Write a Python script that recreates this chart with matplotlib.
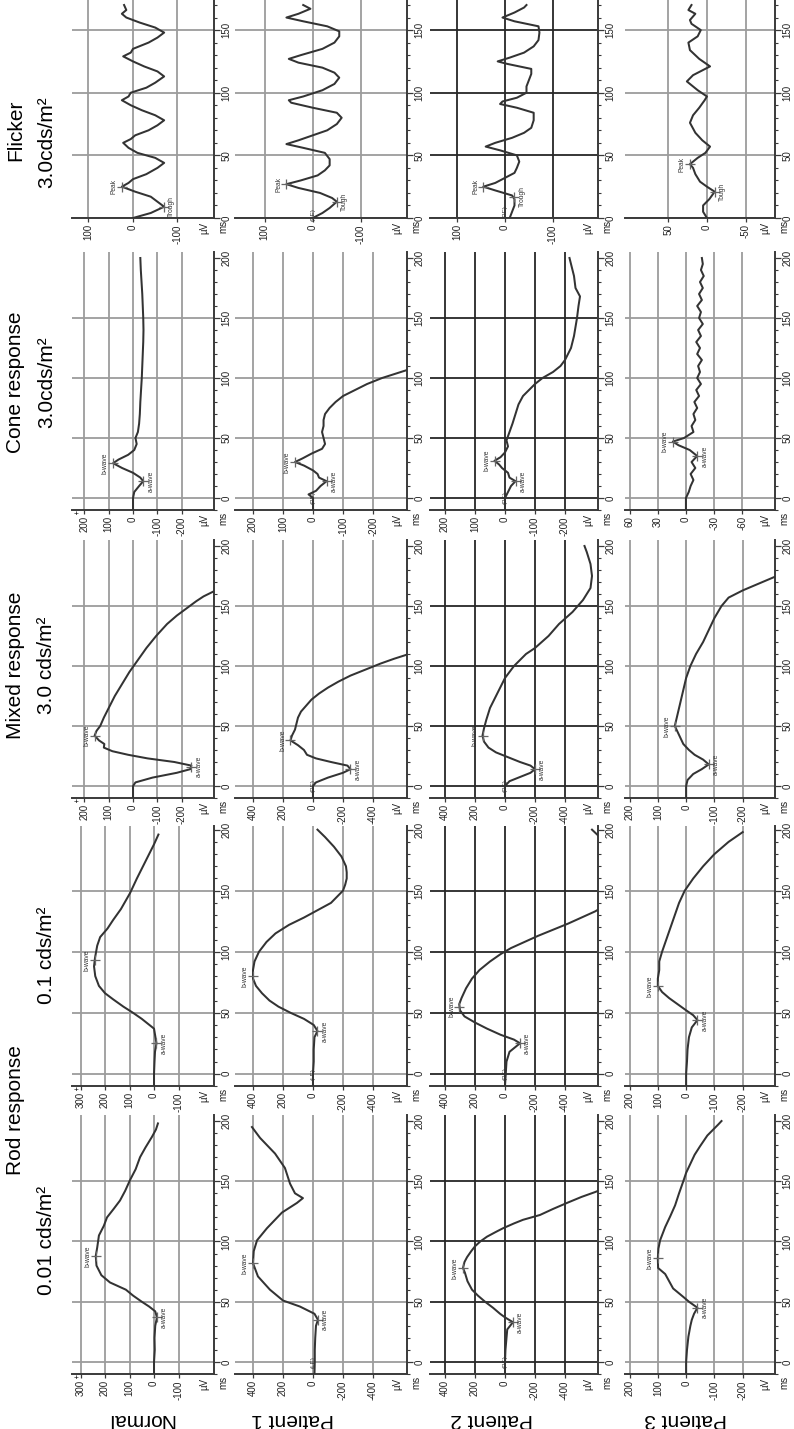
import matplotlib.pyplot as plt
from matplotlib.ticker import MultipleLocator

plt.rcParams["font.family"] = ["Liberation Sans", "DejaVu Sans"]

W, H = 794, 1429

# ── waveforms: (time ms, amplitude µV) ────────────────────────────────────────
n_rod1 = [(-10, 0), (0, 0), (10, -3), (20, -2), (30, -5), (37, -12), (42, -5), (46, 20), (50, 50),
          (55, 85), (60, 115), (66, 180), (72, 215), (80, 235), (88, 238), (95, 232), (105, 225),
          (113, 205), (120, 192), (127, 165), (134, 139), (142, 118), (151, 98), (160, 75),
          (170, 57), (178, 35), (187, 8), (193, -8), (198, -16)]
n_rod2 = [(-10, 0), (0, 0), (10, -2), (18, -4), (25, -10), (31, -5), (37, 0), (41, 25), (45, 50),
          (50, 86), (55, 125), (61, 167), (66, 200), (72, 225), (80, 240), (88, 245), (95, 241),
          (105, 232), (112, 220), (119, 190), (126, 167), (135, 135), (148, 98), (160, 70),
          (170, 45), (180, 20), (188, 0), (196, -18)]
n_mixed = [(-10, 0), (0, 0), (3, -10), (7, -80), (11, -180), (14, -235), (17, -240), (20, -170),
           (23, -60), (26, 20), (29, 85), (32, 120), (35, 118), (38, 140), (42, 158), (46, 150),
           (50, 135), (57, 120), (65, 100), (75, 75), (85, 45), (95, 15), (105, -20), (115, -55),
           (125, -95), (135, -140), (142, -180), (148, -220), (154, -260), (158, -290), (162, -330)]
n_cone = [(-10, 0), (0, 0), (5, -5), (10, -25), (14, -42), (17, -30), (21, 0), (25, 45), (29, 82),
          (32, 60), (36, 20), (40, -5), (45, -15), (50, -10), (55, -20), (62, -25), (70, -28),
          (80, -30), (90, -33), (100, -36), (110, -38), (120, -40), (130, -42), (140, -43),
          (150, -42), (160, -40), (170, -38), (180, -35), (190, -32), (200, -30)]
n_flicker = [(0, 0), (4, -40), (9, -70), (13, -55), (17, -40), (21, -5), (25, 25), (28, 10), (31, 0),
             (35, -30), (40, -55), (44, -70), (48, -50), (52, -10), (56, 10), (60, 22), (63, 5),
             (66, -5), (70, -35), (74, -55), (78, -70), (82, -50), (86, -20), (90, 5), (94, 25),
             (97, 10), (100, 5), (104, -30), (108, -50), (113, -70), (117, -55), (121, -25),
             (125, 0), (129, 22), (132, 5), (135, 0), (140, -35), (144, -55), (148, -70),
             (152, -50), (156, -15), (160, 15), (163, 25), (166, 15), (170, 20)]

p1_rod1 = [(-10, -10), (0, -12), (10, -12), (20, -15), (30, -20), (35, -33), (40, -10), (46, 87),
           (51, 200), (60, 287), (71, 367), (82, 400), (92, 395), (101, 373), (111, 307),
           (124, 207), (132, 107), (136, 67), (140, 120), (148, 153), (161, 187), (173, 253),
           (186, 353), (195, 407)]
p1_rod2 = [(-10, 0), (0, 0), (10, -5), (20, -5), (30, -10), (35, -30), (40, -5), (45, 60), (50, 150),
           (55, 230), (60, 290), (66, 340), (72, 380), (78, 400), (85, 400), (92, 390), (100, 360),
           (108, 310), (115, 250), (122, 160), (128, 60), (132, 0), (136, -60), (140, -120),
           (145, -160), (150, -200), (155, -215), (160, -225), (165, -225), (170, -220),
           (178, -190), (186, -140), (194, -80), (200, -30)]
p1_mixed = [(-10, 0), (0, 0), (3, -20), (7, -100), (11, -200), (14, -250), (17, -230), (20, -120),
            (23, -20), (26, 40), (30, 60), (34, 100), (38, 150), (42, 140), (47, 120), (52, 110),
            (57, 100), (62, 80), (67, 45), (72, 10), (77, -40), (82, -100), (87, -170), (92, -250),
            (97, -350), (102, -450), (106, -540), (110, -640)]
p1_cone = [(-10, 0), (0, 0), (3, 15), (6, -10), (10, -25), (14, -45), (17, -20), (20, -15), (23, 0),
           (27, 30), (30, 60), (33, 35), (37, 5), (41, -30), (45, -40), (50, -35), (55, -30),
           (60, -35), (65, -35), (70, -40), (75, -55), (80, -75), (85, -100), (90, -140),
           (95, -180), (100, -230), (104, -280), (108, -330)]
p1_flicker = [(0, 0), (4, -20), (8, -35), (13, -50), (16, -40), (20, -15), (24, 30), (27, 55),
              (30, 25), (34, -10), (38, -25), (42, -35), (47, -35), (52, -25), (56, 20), (59, 55),
              (62, 30), (66, 0), (70, -30), (75, -50), (80, -60), (84, -50), (88, 0), (92, 45),
              (94, 50), (97, 20), (102, -20), (107, -45), (112, -55), (116, -45), (120, -20),
              (124, 30), (127, 50), (130, 25), (135, -20), (140, -45), (145, -55), (149, -55),
              (153, -30), (157, 20), (160, 55), (163, 30), (167, 5), (170, 20)]

p2_rod1 = [(-10, 0), (0, 0), (10, -3), (20, -10), (27, -15), (33, -53), (37, 0), (40, 33), (45, 80),
           (50, 133), (55, 180), (60, 220), (67, 250), (74, 267), (78, 280), (83, 270), (87, 253),
           (92, 225), (96, 200), (100, 165), (104, 120), (108, 60), (111, 13), (115, -60),
           (118, -120), (122, -233), (127, -320), (132, -413), (137, -510), (141, -600), (145, -680)]
p2_rod2 = [(-10, 0), (0, -5), (10, -10), (18, -30), (22, -70), (25, -100), (28, -60), (32, 30),
           (37, 120), (42, 200), (47, 270), (52, 300), (57, 305), (62, 290), (70, 260), (78, 220),
           (85, 170), (92, 100), (98, 30), (103, -40), (108, -130), (113, -220), (118, -320),
           (123, -420), (128, -510), (133, -600), (140, -700), (160, -780), (180, -740),
           (193, -640), (200, -580)]
p2_mixed = [(-10, 0), (0, 0), (4, -30), (8, -110), (11, -170), (14, -200), (17, -170), (20, -100),
            (24, -20), (28, 60), (32, 110), (37, 140), (42, 150), (48, 140), (55, 125), (65, 100),
            (75, 60), (85, 20), (90, 0), (100, -60), (110, -140), (115, -200), (125, -290),
            (135, -360), (145, -450), (155, -520), (165, -570), (175, -580), (185, -570),
            (195, -545), (200, -530)]
p2_cone = [(-10, 0), (0, 0), (5, -10), (10, -20), (14, -35), (17, -15), (21, -10), (25, 10),
           (28, 20), (31, 35), (34, 15), (38, 0), (43, -10), (48, -5), (55, -15), (62, -25),
           (70, -35), (78, -45), (85, -60), (90, -80), (95, -100), (100, -125), (105, -160),
           (110, -185), (115, -200), (125, -220), (135, -230), (150, -240), (160, -245),
           (168, -250), (175, -235), (185, -230), (195, -220), (200, -215)]
p2_flicker = [(0, -10), (5, -15), (10, -20), (15, -20), (18, -15), (22, 20), (25, 45), (28, 20),
              (32, 0), (36, -20), (40, -25), (45, -30), (50, -25), (54, 10), (57, 40), (60, 20),
              (64, -15), (68, -40), (72, -55), (78, -60), (84, -60), (88, -25), (91, 10), (93, 5),
              (96, -25), (100, -45), (105, -45), (110, -50), (115, -55), (119, -55), (123, -5),
              (125, 15), (128, -10), (132, -40), (137, -60), (142, -70), (148, -72), (153, -70),
              (157, -20), (160, 5), (164, -20), (168, -40), (170, -45)]

p3_rod1 = [(-10, 0), (0, 0), (10, -3), (21, -8), (30, -15), (35, -20), (40, -28), (45, -40), (50, -10),
           (54, 10), (61, 46), (67, 60), (73, 74), (78, 99), (86, 100), (94, 98), (101, 92),
           (112, 74), (121, 56), (130, 39), (140, 25), (150, 10), (157, 0), (164, -14), (172, -30),
           (179, -49), (188, -75), (197, -113), (200, -125)]
p3_rod2 = [(-10, 0), (0, 0), (10, -3), (20, -5), (30, -10), (38, -20), (44, -40), (48, -25), (52, 0),
           (57, 30), (62, 60), (67, 85), (72, 100), (78, 100), (85, 95), (92, 95), (100, 85),
           (110, 70), (120, 55), (130, 40), (140, 25), (150, 5), (160, -25), (170, -60),
           (180, -100), (190, -150), (198, -200)]
p3_mixed = [(-10, 0), (0, 0), (5, -5), (10, -25), (14, -55), (18, -80), (22, -60), (26, -30),
            (30, -10), (35, 10), (40, 20), (45, 30), (50, 40), (55, 35), (60, 30), (70, 20),
            (80, 10), (90, 0), (100, -15), (110, -35), (120, -60), (130, -80), (140, -100),
            (150, -125), (157, -150), (163, -200), (168, -250), (173, -300), (176, -330)]
p3_cone = [(-10, 0), (0, 0), (5, -3), (10, -5), (15, -8), (20, -5), (25, -10), (30, -6), (35, -12),
           (40, -4), (44, 8), (47, 14), (50, 2), (55, -8), (60, -6), (65, -10), (70, -8), (75, -12),
           (80, -9), (85, -14), (90, -11), (95, -16), (100, -12), (105, -15), (110, -13),
           (115, -17), (120, -12), (125, -15), (130, -11), (135, -16), (140, -13), (145, -18),
           (150, -14), (155, -16), (160, -12), (165, -17), (170, -14), (175, -18), (180, -15),
           (185, -19), (190, -16), (195, -18), (200, -17)]
p3_flicker = [(0, 0), (5, 5), (10, 5), (15, -3), (21, -10), (25, 0), (29, 9), (35, 15), (40, 18),
              (43, 22), (48, 12), (52, 2), (57, -4), (62, 6), (68, 15), (76, 22), (82, 18),
              (88, 10), (94, 3), (97, 0), (102, 12), (109, 26), (114, 18), (121, -4), (127, 10),
              (134, 22), (140, 24), (145, 12), (150, 8), (155, 20), (158, 22), (163, 15),
              (166, 24), (170, 20)]

# labelled features: (label, time ms, µV)
n_feats = {"rod1": [("a-wave", 37, -12), ("b-wave", 88, 238)],
           "rod2": [("a-wave", 25, -10), ("b-wave", 93, 243)],
           "mixed": [("a-wave", 16, -240), ("b-wave", 42, 158)],
           "cone": [("a-wave", 14, -42), ("b-wave", 29, 82)],
           "flicker": [("Trough", 9, -70), ("Peak", 25, 25)]}
p1_feats = {"rod1": [("(LE)", 0, 0), ("a-wave", 35, -33), ("b-wave", 82, 400)],
            "rod2": [("(LE)", 0, 0), ("a-wave", 35, -30), ("b-wave", 80, 400)],
            "mixed": [("(RE)", 0, 0), ("a-wave", 14, -250), ("b-wave", 38, 150)],
            "cone": [("(RE)", 0, 0), ("a-wave", 14, -45), ("b-wave", 30, 60)],
            "flicker": [("(RE)", 3, 0), ("Tough", 13, -50), ("Peak", 27, 55)]}
p2_feats = {"rod1": [("(RE)", 0, 0), ("a-wave", 33, -53), ("b-wave", 78, 280)],
            "rod2": [("(RE)", 0, 0), ("a-wave", 25, -100), ("b-wave", 55, 305)],
            "mixed": [("(RE)", 0, 0), ("a-wave", 14, -200), ("b-wave", 42, 150)],
            "cone": [("(RE)", 0, 0), ("a-wave", 14, -35), ("b-wave", 31, 35)],
            "flicker": [("(RE)", 5, 0), ("Trough", 17, -20), ("Peak", 25, 45)]}
p3_feats = {"rod1": [("a-wave", 45, -40), ("b-wave", 86, 100)],
            "rod2": [("a-wave", 44, -40), ("b-wave", 72, 100)],
            "mixed": [("a-wave", 18, -80), ("b-wave", 50, 40)],
            "cone": [("a-wave", 35, -12), ("b-wave", 47, 14)],
            "flicker": [("Tough", 21, -10), ("Peak", 43, 22)]}

ticks_300 = [300, 200, 100, 0, -100]
ticks_200 = [200, 100, 0, -100, -200]
ticks_400 = [400, 200, 0, -200, -400]
ticks_100 = [100, 0, -100]
ticks_60 = [60, 30, 0, -30, -60]
ticks_50 = [50, 0, -50]

patients = ["Normal", "Patient 1", "Patient 2", "Patient 3"]
stimuli = ["rod1", "rod2", "mixed", "cone", "flicker"]

# ── layout (image pixels) ─────────────────────────────────────────────────────
COL_X = [(72, 214), (235, 407), (430, 598), (625, 775)]
ROW_Y = {"rod1": (1115, 1374), "rod2": (826, 1086), "mixed": (540, 798),
         "cone": (252, 510), "flicker": (0, 218)}
TLIM = {"rod1": (-10, 205), "rod2": (-10, 203), "mixed": (-10, 205),
        "cone": (-10, 205), "flicker": (0, 174)}
GRID_COL = ["#9c9c9c", "#9c9c9c", "#262626", "#9c9c9c"]
TRACE = "#333333"
AXIS = "#3a3a3a"

panels = {
    "Normal": dict(
        rod1=(n_rod1, ticks_300, (335, -245)), rod2=(n_rod2, ticks_300, (335, -245)),
        mixed=(n_mixed, ticks_200, (251, -333)), cone=(n_cone, ticks_200, (251, -333)),
        flicker=(n_flicker, ticks_100, (137, -182)), feats=n_feats),
    "Patient 1": dict(
        rod1=(p1_rod1, ticks_400, (520, -627)), rod2=(p1_rod2, ticks_400, (520, -627)),
        mixed=(p1_mixed, ticks_400, (520, -627)), cone=(p1_cone, ticks_200, (260, -313)),
        flicker=(p1_flicker, ticks_100, (162, -196)), feats=p1_feats),
    "Patient 2": dict(
        rod1=(p2_rod1, ticks_400, (500, -620)), rod2=(p2_rod2, ticks_400, (500, -620)),
        mixed=(p2_mixed, ticks_400, (500, -620)), cone=(p2_cone, ticks_200, (250, -310)),
        flicker=(p2_flicker, ticks_100, (156, -194)), feats=p2_feats),
    "Patient 3": dict(
        rod1=(p3_rod1, ticks_200, (216, -314)), rod2=(p3_rod2, ticks_200, (216, -314)),
        mixed=(p3_mixed, ticks_200, (216, -314)), cone=(p3_cone, ticks_60, (65, -95)),
        flicker=(p3_flicker, ticks_50, (106, -88)), feats=p3_feats),
}

fig = plt.figure(figsize=(W / 100, H / 100), dpi=100)
fig.patch.set_facecolor("white")


def px_axes(x0, x1, ytop, ybot):
    return fig.add_axes([x0 / W, 1 - ybot / H, (x1 - x0) / W, (ybot - ytop) / H])


for ci, name in enumerate(patients):
    spec = panels[name]
    x0, x1 = COL_X[ci]
    for stim in stimuli:
        trace, vticks, vlim = spec[stim]
        ytop, ybot = ROW_Y[stim]
        ax = px_axes(x0, x1, ytop, ybot)
        ax.set_xlim(vlim)
        ax.set_ylim(TLIM[stim])

        # grid
        for v in vticks:
            ax.axvline(v, color=GRID_COL[ci], lw=1.3, zorder=1)
        for t in [0, 50, 100, 150]:
            ax.axhline(t, color=GRID_COL[ci], lw=1.3, zorder=1)

        # trace (time runs up, positive voltage to the left)
        ts = [p[0] for p in trace]
        vs = [p[1] for p in trace]
        ax.plot(vs, ts, color=TRACE, lw=1.45, zorder=3, solid_joinstyle="round")

        # axes look
        ax.spines[["top", "left"]].set_visible(False)
        for s in ("bottom", "right"):
            ax.spines[s].set_color(AXIS)
            ax.spines[s].set_linewidth(1.4)
        ax.set_xticks(vticks)
        ax.set_xticklabels([str(v) for v in vticks], rotation=90, fontsize=7, color="#222222")
        ax.yaxis.tick_right()
        tt = [0, 50, 100, 150] if stim == "flicker" else [0, 50, 100, 150, 200]
        ax.set_yticks(tt)
        ax.set_yticklabels([str(t) for t in tt], rotation=90, va="center",
                           fontsize=7, color="#222222")
        ax.yaxis.set_minor_locator(MultipleLocator(10))
        ax.tick_params(axis="x", length=3, width=0.9, pad=1.5, color=AXIS)
        ax.tick_params(axis="y", which="major", length=4, width=0.9, pad=1.5, color=AXIS)
        ax.tick_params(axis="y", which="minor", length=2, width=0.8, color=AXIS)

        ax.annotate("µV", (1, 0), xycoords="axes fraction", xytext=(-3, -3),
                    textcoords="offset points", rotation=90, ha="right", va="top",
                    fontsize=7, color="#222222")
        ax.annotate("ms", (1, 0), xycoords="axes fraction", xytext=(3, -1),
                    textcoords="offset points", rotation=90, ha="left", va="top",
                    fontsize=7, color="#222222")
        if ci == 0 and stim != "flicker":
            ax.annotate("+", (0, 0), xycoords="axes fraction", xytext=(1, -1),
                        textcoords="offset points", ha="left", va="top", fontsize=6)

        # feature labels
        for lab, t, v in spec["feats"][stim]:
            if lab.startswith("("):
                ax.text(v, t, lab, rotation=90, ha="center", va="center",
                        fontsize=4.5, color="#333333", zorder=4)
                continue
            ax.plot(v, t, marker="+", ms=7, mew=0.9, color="#666666", zorder=4)
            pos = lab in ("b-wave", "Peak")
            ax.annotate(lab, (v, t), xytext=(-3 if pos else 3, 0), textcoords="offset points",
                        rotation=90, ha="right" if pos else "left", va="center",
                        fontsize=4.8, color="#333333", zorder=4)

# ── column headers (left, reading upward) ─────────────────────────────────────
HEAD_BIG = [("Rod response", 1110), ("Mixed response", 665), ("Cone response", 382),
            ("Flicker", 130)]
HEAD_SMALL = [("0.01 cds/m²", 1240), ("0.1 cds/m²", 955), ("3.0 cds/m²", 665),
              ("3.0cds/m²", 382), ("3.0cds/m²", 142)]
for txt, y in HEAD_BIG:
    fig.text(16 / W, 1 - y / H, txt, rotation=90, ha="center", va="center", fontsize=15)
for txt, y in HEAD_SMALL:
    fig.text(47 / W, 1 - y / H, txt, rotation=90, ha="center", va="center", fontsize=15)

# ── row labels (bottom, upside down) ──────────────────────────────────────────
LABEL_X = [140, 293, 492, 686]
for name, x in zip(patients, LABEL_X):
    fig.text(x / W, 1 - 1419 / H, name, rotation=180, ha="center", va="center", fontsize=15)

fig.savefig("out.png", dpi=100, facecolor="white")
